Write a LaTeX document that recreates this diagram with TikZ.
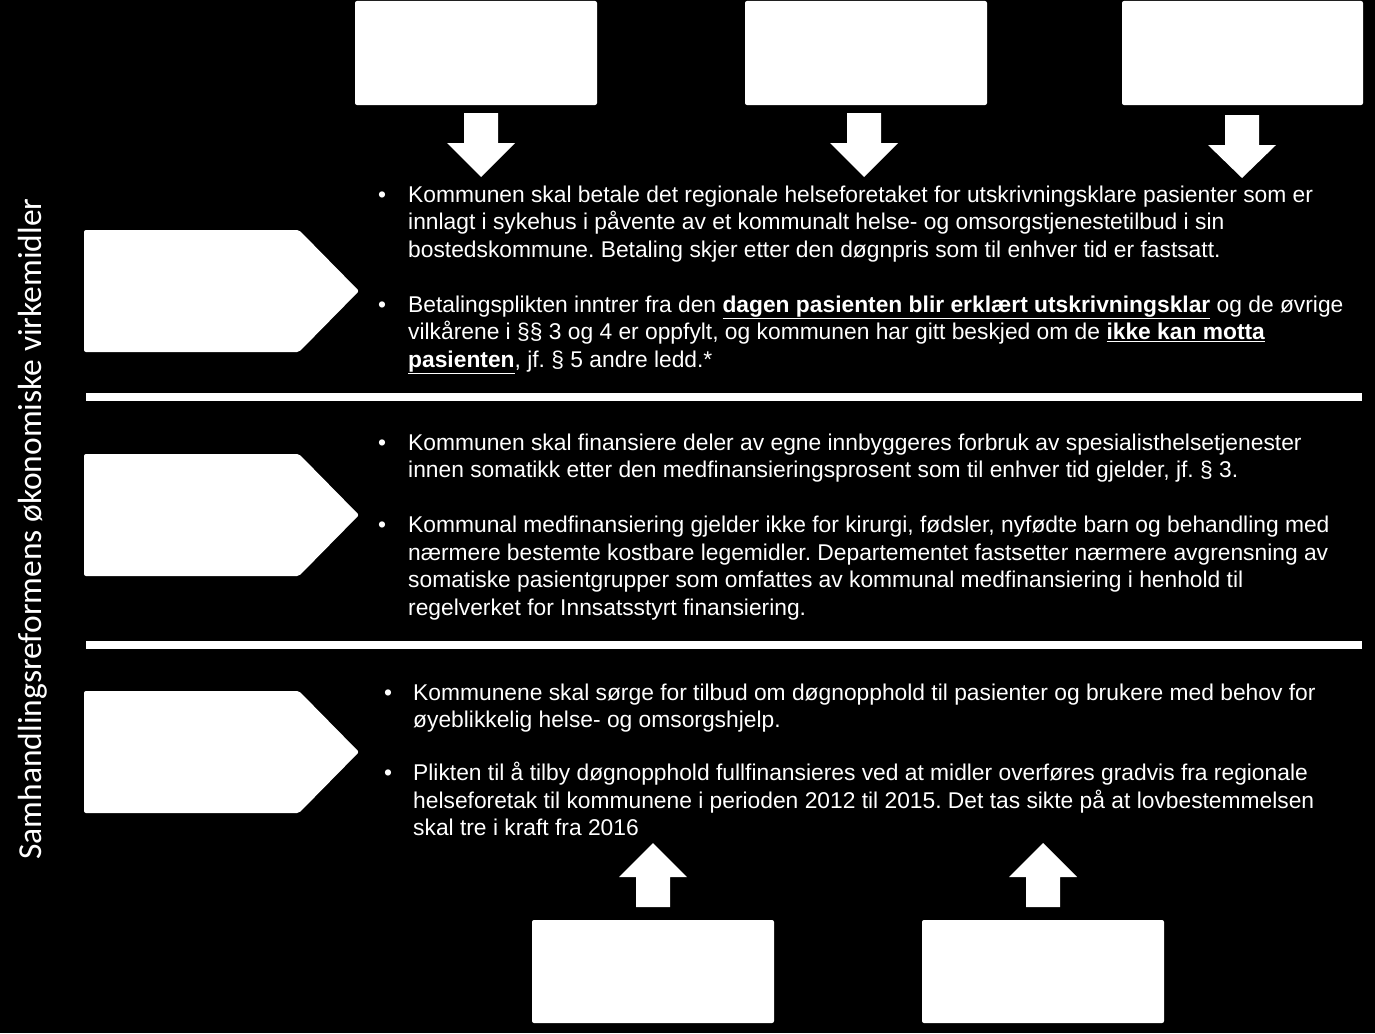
\documentclass[tikz,border=0pt]{standalone}
\usepackage{fontspec}
\setmainfont{Liberation Sans}
\newfontfamily\sidefont{Carlito}
\frenchspacing
\begin{document}
\begin{tikzpicture}[x=1pt,y=-1pt,
  boxw/.style={fill=white,draw=none,rounded corners=2pt},
  blockarrow/.style={fill=white,draw=none},
  txt/.style={anchor=base west,text=white,inner sep=0pt,font=\fontsize{22.8}{27.5}\selectfont},
  bul/.style={anchor=base west,text=white,inner sep=0pt,font=\fontsize{22.8}{27.5}\selectfont},
  side/.style={text=white,inner sep=0pt,rotate=90,font=\sidefont\fontsize{33.5}{38}\selectfont}]
\fill[black] (0,0) rectangle (1375,1033);
\useasboundingbox (0,0) rectangle (1375,1033);
% top boxes
\path[boxw] (355,1) rectangle (597,105);
\path[boxw] (745,1) rectangle (987,105);
\path[boxw] (1122,1) rectangle (1363,105);
\node[inner sep=0,minimum width=242pt,minimum height=104pt] (t1) at (476,53) {};
\node[inner sep=0,minimum width=242pt,minimum height=104pt] (t2) at (866,53) {};
\node[inner sep=0,minimum width=241pt,minimum height=104pt] (t3) at (1242.5,53) {};
% down arrows
\fill[blockarrow] (464,113) -- (498,113) -- (498,143) -- (515,143) -- (481,177) -- (447,143) -- (464,143) -- cycle;
\fill[blockarrow] (847,113) -- (881,113) -- (881,143) -- (898,143) -- (864,177) -- (830,143) -- (847,143) -- cycle;
\fill[blockarrow] (1225,115) -- (1259,115) -- (1259,145) -- (1276,145) -- (1242,178) -- (1208,145) -- (1225,145) -- cycle;
% pentagons
\fill[boxw] (84,230) -- (299,230) -- (359,291) -- (299,352) -- (84,352) -- cycle;
\fill[boxw] (84,454) -- (299,454) -- (359,515) -- (299,576) -- (84,576) -- cycle;
\fill[boxw] (84,691) -- (299,691) -- (359,752) -- (299,813) -- (84,813) -- cycle;
\node[inner sep=0] (p1) at (220,291) {};
\node[inner sep=0] (p2) at (220,515) {};
\node[inner sep=0] (p3) at (220,752) {};
% separator bars
\fill[white] (86,393) rectangle (1362,401);
\fill[white] (86,641) rectangle (1362,649);
% bottom boxes
\path[boxw] (532,920) rectangle (774,1023);
\path[boxw] (922,920) rectangle (1164,1023);
\node[inner sep=0,minimum width=242pt,minimum height=103pt] (b1) at (653,971.5) {};
\node[inner sep=0,minimum width=242pt,minimum height=103pt] (b2) at (1043,971.5) {};
% up arrows
\fill[blockarrow] (636,907) -- (670,907) -- (670,877) -- (687,877) -- (653,843) -- (619,877) -- (636,877) -- cycle;
\fill[blockarrow] (1026,907) -- (1060,907) -- (1060,877) -- (1077,877) -- (1043,843) -- (1009,877) -- (1026,877) -- cycle;
% side label
\node[side] (lab) at (33,529) {Samhandlingsreformens økonomiske virkemidler};
% block 1
\node[bul] (u11) at (378,202) {•};
\node[txt] (l11) at (408,202) {Kommunen skal betale det regionale helseforetaket for utskrivningsklare pasienter som er};
\node[txt] (l12) at (408,229.5) {innlagt i sykehus i påvente av et kommunalt helse- og omsorgstjenestetilbud i sin};
\node[txt] (l13) at (408,257) {bostedskommune. Betaling skjer etter den døgnpris som til enhver tid er fastsatt.};
\node[bul] (u12) at (378,312) {•};
\node[txt] (l14) at (408,312) {Betalingsplikten inntrer fra den \underline{\textbf{dagen pasienten blir erklært utskrivningsklar}} og de øvrige};
\node[txt] (l15) at (408,339.5) {vilkårene i §§ 3 og 4 er oppfylt, og kommunen har gitt beskjed om de \underline{\textbf{ikke kan motta}}};
\node[txt] (l16) at (408,367) {\underline{\textbf{pasienten}}, jf. § 5 andre ledd.*};
% block 2
\node[bul] (u21) at (378,450) {•};
\node[txt] (l21) at (408,450) {Kommunen skal finansiere deler av egne innbyggeres forbruk av spesialisthelsetjenester};
\node[txt] (l22) at (408,477.5) {innen somatikk etter den medfinansieringsprosent som til enhver tid gjelder, jf. § 3.};
\node[bul] (u22) at (378,532.5) {•};
\node[txt] (l23) at (408,532.5) {Kommunal medfinansiering gjelder ikke for kirurgi, fødsler, nyfødte barn og behandling med};
\node[txt] (l24) at (408,560) {nærmere bestemte kostbare legemidler. Departementet fastsetter nærmere avgrensning av};
\node[txt] (l25) at (408,587.5) {somatiske pasientgrupper som omfattes av kommunal medfinansiering i henhold til};
\node[txt] (l26) at (408,615) {regelverket for Innsatsstyrt finansiering.};
% block 3
\node[bul] (u31) at (384,700) {•};
\node[txt] (l31) at (413,700) {Kommunene skal sørge for tilbud om døgnopphold til pasienter og brukere med behov for};
\node[txt] (l32) at (413,727.5) {øyeblikkelig helse- og omsorgshjelp.};
\node[bul] (u32) at (384,780.5) {•};
\node[txt] (l33) at (413,780.5) {Plikten til å tilby døgnopphold fullfinansieres ved at midler overføres gradvis fra regionale};
\node[txt] (l34) at (413,808) {helseforetak til kommunene i perioden 2012 til 2015. Det tas sikte på at lovbestemmelsen};
\node[txt] (l35) at (413,835.5) {skal tre i kraft fra 2016};
\end{tikzpicture}
\end{document}
